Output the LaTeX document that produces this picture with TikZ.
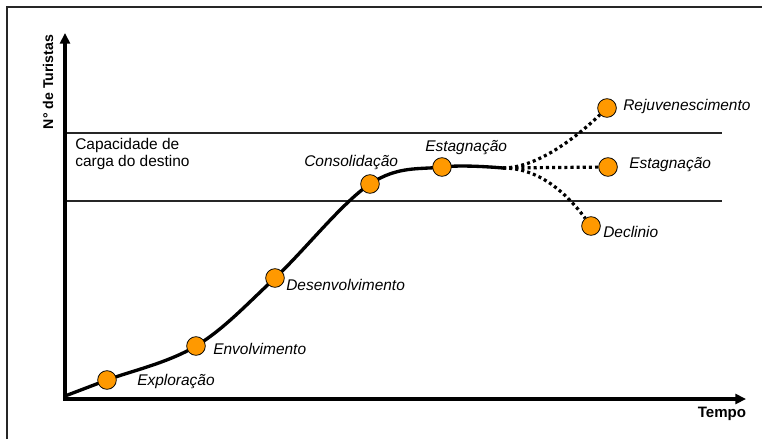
\documentclass[tikz,border=0pt]{standalone}
\usepackage{fontspec}
\setmainfont{Liberation Sans}
\usetikzlibrary{arrows.meta,positioning}
\definecolor{dotfill}{HTML}{FF9900}
\definecolor{frameline}{HTML}{262626}

\begin{document}
\begin{tikzpicture}[x=0.75pt,y=-0.75pt,font=\fontsize{11.6}{12.75}\selectfont,
  ax/.style={line width=2.6pt,-{Triangle[length=8pt,width=7.5pt]}},
  crv/.style={line width=2.5pt,line cap=round},
  dots/.style={line width=2.4pt,dash pattern=on 2.3pt off 2.3pt},
  lim/.style={draw=frameline,line width=0.9pt},
  dot/.style={circle,draw=black,fill=dotfill,line width=0.6pt,
              minimum size=14pt,inner sep=0pt},
  lbl/.style={font=\fontsize{11.6}{12.75}\selectfont\itshape,inner sep=0pt,anchor=west},
  axl/.style={font=\bfseries,inner sep=0pt}]
  \useasboundingbox (0,0) rectangle (762,439);
  % frame
  \draw[frameline,line width=1.1pt] (7,439) -- (7,7) -- (762,7);
  % carrying capacity band
  \draw[lim] (66,133) -- (722,133);
  \draw[lim] (66,201) -- (722,201);
  \node[inner sep=0pt,anchor=west,align=left] (cap) at (75,154)
    {Capacidade de\\carga do destino};
  % axes
  \coordinate (o) at (65,399);
  \coordinate (ytip) at (65,33);
  \coordinate (xtip) at (746,399);
  \draw[ax] ([yshift=-1.3pt]o) -- (ytip);
  \draw[ax] ([xshift=-1.3pt]o) -- (xtip);
  \node[axl,font=\fontsize{10.6}{12}\selectfont\bfseries,rotate=90] (yl) at (48,82) {N° de Turistas};
  \node[axl,font=\fontsize{11.3}{12}\selectfont\bfseries] (xl) at (722,414) {Tempo};
  % stage points
  \coordinate (s0) at (65,396);
  \coordinate (pexp) at (107,380);
  \coordinate (penv) at (196,346);
  \coordinate (pdes) at (275,278);
  \coordinate (pcon) at (370,184);
  \coordinate (pest) at (442,167);
  \coordinate (s1) at (503,168);
  \draw[crv] plot[smooth,tension=0.6] coordinates {(s0) (pexp) (penv) (pdes) (pcon) (pest) (s1)};
  % future scenarios
  \node[dot] (drej) at (607,108) {};
  \node[dot] (dsta) at (608,167) {};
  \node[dot] (ddec) at (591,226) {};
  \draw[dots] (s1) .. controls (530,168) and (565,148) .. (drej);
  \draw[dots] (s1) -- (dsta);
  \draw[dots] (s1) .. controls (530,168) and (558,182) .. (ddec);
  % stages
  \node[dot] (dexp) at (pexp) {};
  \node[dot] (denv) at (penv) {};
  \node[dot] (ddes) at (pdes) {};
  \node[dot] (dcon) at (pcon) {};
  \node[dot] (dest) at (pest) {};
  \node[lbl] (lexp) at (137,381) {Exploração};
  \node[lbl] (lenv) at (213,349) {Envolvimento};
  \node[lbl] (ldes) at (286,285) {Desenvolvimento};
  \node[lbl] (lcon) at (304,162) {Consolidação};
  \node[lbl] (lest) at (425,148) {Estagnação};
  \node[lbl] (lrej) at (623,106) {Rejuvenescimento};
  \node[lbl] (lsta) at (629,165) {Estagnação};
  \node[lbl] (ldec) at (603,232) {Declinio};
\end{tikzpicture}
\end{document}
